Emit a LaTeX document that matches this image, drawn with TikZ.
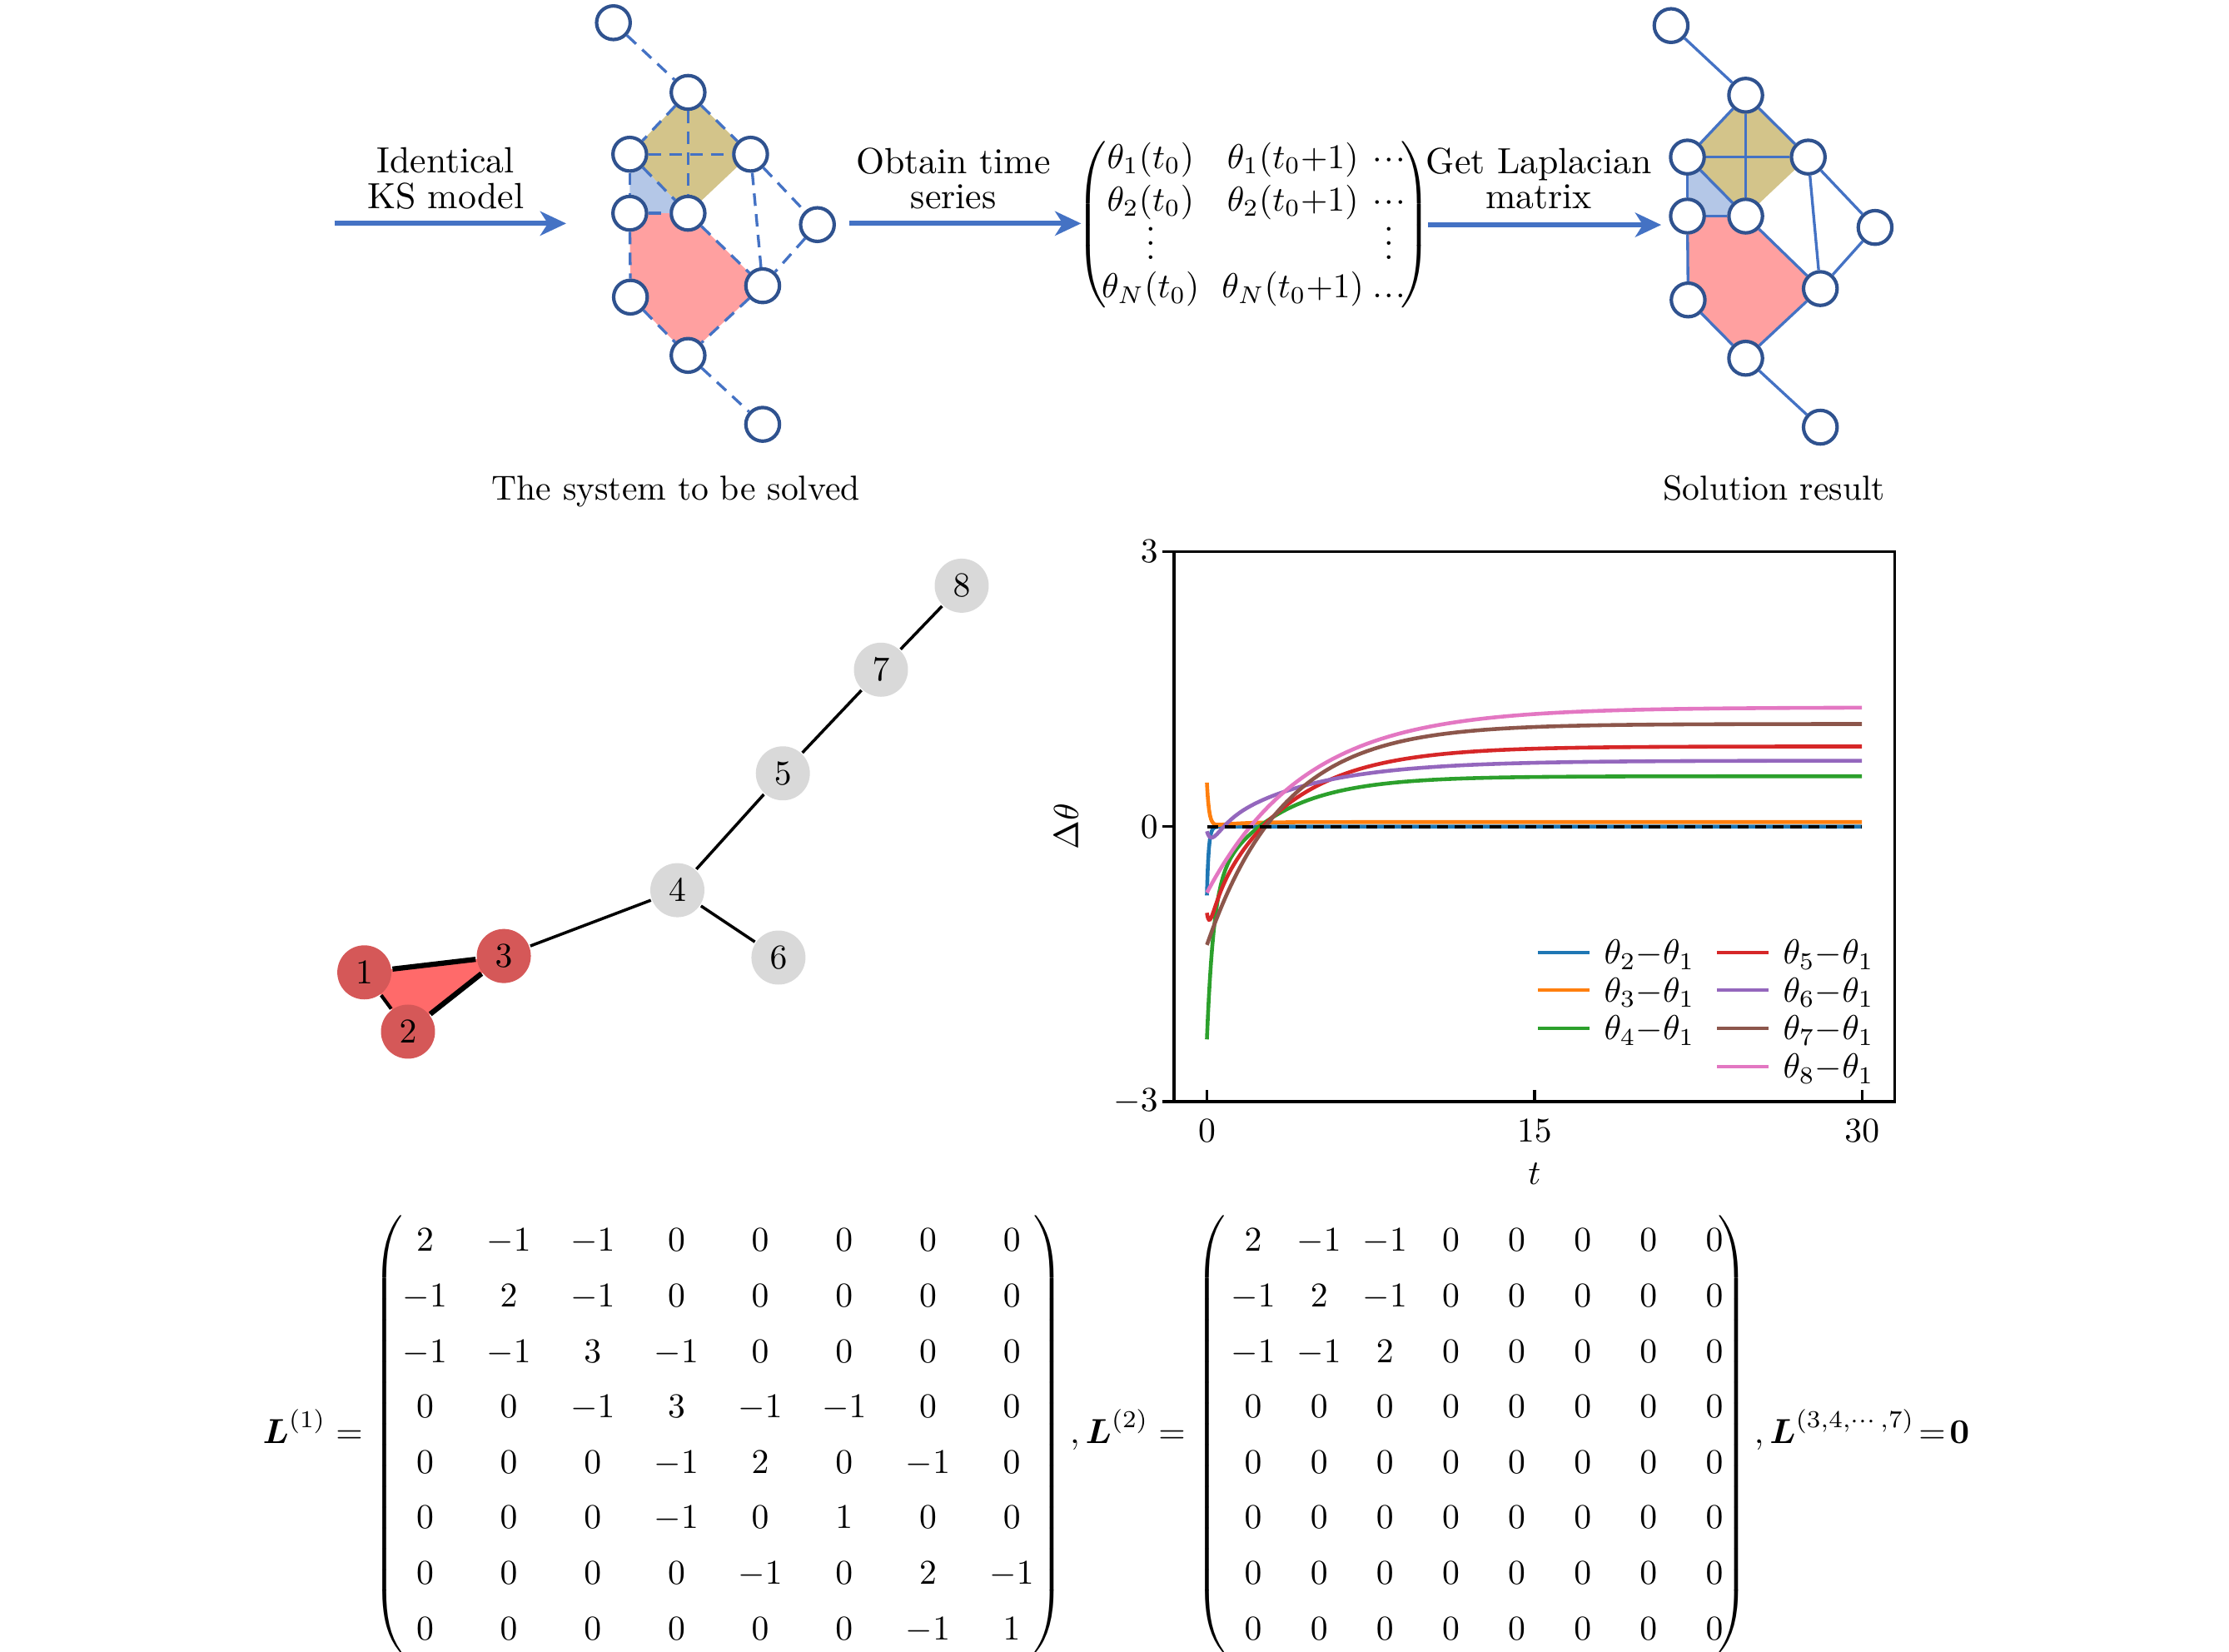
\documentclass[tikz,border=0pt]{standalone}
\usepackage{amsmath,amssymb}
\usepackage{array}
\usetikzlibrary{arrows.meta,backgrounds}

\definecolor{netblue}{RGB}{68,114,196}
\definecolor{netring}{RGB}{47,82,143}
\definecolor{netgold}{RGB}{211,196,138}
\definecolor{netsky}{RGB}{180,199,231}
\definecolor{netpink}{RGB}{255,160,160}
\definecolor{nodegrey}{RGB}{217,217,217}
\definecolor{nodered}{RGB}{213,88,88}
\definecolor{facered}{RGB}{255,106,106}
\definecolor{tabblue}{RGB}{31,119,180}
\definecolor{taborange}{RGB}{255,127,14}
\definecolor{tabgreen}{RGB}{44,160,44}
\definecolor{tabred}{RGB}{214,39,40}
\definecolor{tabpurple}{RGB}{148,103,189}
\definecolor{tabbrown}{RGB}{140,86,75}
\definecolor{tabpink}{RGB}{227,119,194}

\newcommand{\tcdots}{{\cdot}\mkern1mu{\cdot}\mkern1mu{\cdot}}
\newcommand{\tldots}{{.}\mkern1mu{.}\mkern1mu{.}}

\tikzset{every picture/.style={line width=0.75pt}}
\tikzset{
	netnode/.style={circle,draw=netring,fill=white,line width=1pt,minimum size=9.7pt,inner sep=0pt},
	netedge/.style={netblue,line width=0.8pt},
	guessedge/.style={netedge,dash pattern=on 3.6pt off 2.4pt},
	flowarrow/.style={netblue,line width=1.45pt,-{Stealth[length=7.5pt,width=7pt,inset=2.2pt]}},
	flowlabel/.style={align=center,inner sep=0pt,font={\fontsize{10.5}{10.25}\selectfont}},
	graynode/.style={circle,fill=nodegrey,minimum size=15.6pt,inner sep=0pt},
	rednode/.style={graynode,fill=nodered},
	tieedge/.style={line width=0.85pt},
	curve/.style={line width=1.1pt}
}

\begin{document}
\begin{tikzpicture}[x=0.41pt,y=0.41pt,yscale=-1,xscale=1,declare function={dec(\u,\k)=exp(max(-\u/\k,-9));}]
	\useasboundingbox (0,0) rectangle (1568,1162);
	%Shape: Circles of both networks
	\foreach \n/\px/\py in {a/431.5/16,b/484/65,c/443/108.5,d/528/108.5,e/443/150,f/484/150,g/575/158,h/536.5/201,i/443.5/209,j/484/250,k/536.5/298.5}{
		\node[netnode] (l\n) at (\px,\py) {};
		\node[netnode] (r\n) at (\px+744,\py+2) {};
	}
	%Shape: Polygons
	\begin{scope}[on background layer]
		\foreach \s in {l,r}{
			\fill[netgold] (\s b.center) -- (\s d.center) -- (\s f.center) -- (\s c.center) -- cycle;
			\fill[netsky] (\s c.center) -- (\s f.center) -- (\s e.center) -- cycle;
			\fill[netpink] (\s e.center) -- (\s f.center) -- (\s h.center) -- (\s j.center) -- (\s i.center) -- cycle;
		}
	\end{scope}
	\foreach \p/\q in {a/b,b/c,b/d,b/f,c/d,c/f,c/e,e/f,d/g,d/h,g/h,f/h,e/i,i/j,h/j,j/k}{
		\draw[guessedge] (l\p) -- (l\q);
		\draw[netedge] (r\p) -- (r\q);
	}
	
	% Arrows
	\coordinate (ksA) at (235.3,157.2);
	\coordinate (ksB) at (398.3,157.2);
	\coordinate (tsA) at (597.5,157.2);
	\coordinate (tsB) at (760.5,157.2);
	\coordinate (lpA) at (1004.6,158.2);
	\coordinate (lpB) at (1168.6,158.2);
	\draw[flowarrow] (ksA) -- (ksB);
	\draw[flowarrow] (tsA) -- (tsB);
	\draw[flowarrow] (lpA) -- (lpB);
	% Text Node
	\node[flowlabel] (kslab) at (313.5,125.5) {Identical\\KS model};
	% Text Node
	\node[flowlabel] (tslab) at (670.7,125.5) {Obtain time\\series};
	% Text Node
	\node[flowlabel] (lplab) at (1082.5,125.5) {Get Laplacian\\matrix};
	% Text Node
	\node[anchor=base] (caplft) at (475.4,351.5) {The system to be solved};
	% Text Node
	\node[anchor=base] (caprgt) at (1248,351.5) {Solution result};
	% Text Node
	\node[inner sep=0pt] (tsmat) at (882,158.2) {$\left(\hspace{-1.4pt}\begin{array}{@{}c@{\hspace{6.5pt}}c@{\hspace{2.5pt}}c@{}}
		\theta_1(t_0) & \theta_1(t_0{+}1) & \tcdots\\[0.2pt]
		\theta_2(t_0) & \theta_2(t_0{+}1) & \tcdots\\
		\raisebox{-2pt}{$\smash{\vdots}$} & & \raisebox{-2pt}{$\smash{\vdots}$}\\[1.2pt]
		\theta_N(t_0) & \theta_N(t_0{+}1) & \tldots
		\end{array}\hspace{-1.2pt}\right)$};
	
	% Graph
	\foreach \n/\px/\py in {1/256.3/684,2/287/725.7,3/354.4/672.5}
		\node[rednode] (g\n) at (\px,\py) {$\n$};
	\foreach \n/\px/\py in {4/476.5/626.2,5/550.7/544,6/547.6/673.6,7/619.7/471.1,8/676.5/412}
		\node[graynode] (g\n) at (\px,\py) {$\n$};
	\begin{scope}[on background layer]
		\fill[facered] (g1.center) -- (g2.center) -- (g3.center) -- cycle;
	\end{scope}
	\draw[tieedge,line width=1pt] (g1) -- (g2);
	\draw[tieedge,line width=1.5pt] (g1) -- (g3) (g2) -- (g3);
	\draw[tieedge] (g3) -- (g4) (g4) -- (g5) (g4) -- (g6) (g5) -- (g7) (g7) -- (g8);
	
	% Plot
	\begin{scope}[shift={(849,581.5)},x=6.298pt,y=-26.445pt]
		\draw[curve,tabblue] plot[variable=\s,domain=0:5.4772,samples=90] ({\s*\s},{-0.75*dec(\s*\s,0.08)});
		\draw[curve,taborange] plot[variable=\s,domain=0:5.4772,samples=90] ({\s*\s},{0.05+0.48*dec(\s*\s,0.1)-0.05*dec(\s*\s,1.2)});
		\draw[curve,tabgreen] plot[variable=\s,domain=0:5.4772,samples=90] ({\s*\s},{0.55-1.22*dec(\s*\s,3)-1.65*dec(\s*\s,0.3)});
		\draw[curve,tabred] plot[variable=\s,domain=0:5.4772,samples=90] ({\s*\s},{0.875-1.815*dec(\s*\s,3.5)-0.4*(dec(\s*\s,0.35)-dec(\s*\s,0.12))});
		\draw[curve,tabpurple] plot[variable=\s,domain=0:5.4772,samples=90] ({\s*\s},{0.72-0.77*dec(\s*\s,4.3)-0.3*(dec(\s*\s,0.6)-dec(\s*\s,0.2))});
		\draw[curve,tabbrown] plot[variable=\s,domain=0:5.4772,samples=90] ({\s*\s},{1.12-2.41*dec(\s*\s,3.5)});
		\draw[curve,tabpink] plot[variable=\s,domain=0:5.4772,samples=90] ({\s*\s},{1.3-2.02*dec(\s*\s,4.5)});
		\draw[black,line width=1pt,dash pattern=on 3.2pt off 1.9pt] (0,0) -- (30,0);
		%Shape: Rectangle
		\draw[line width=0.9pt] (-1.497,-3) rectangle (31.5,3);
		\foreach \v/\nm in {-3/a,0/b,3/c}{
			\draw[line width=0.8pt] (-1.497,\v) -- (-2.05,\v);
			\node[anchor=east,inner sep=0pt] (ytick\nm) at (-2.18,\v) {$\v$};
		}
		\foreach \t in {0,15,30}{
			\draw[line width=0.8pt] (\t,-3) -- (\t,-2.87);
			\node[anchor=north,inner sep=0pt] (xtick\t) at (\t,-3.18) {$\t$};
		}
		% Text Node
		\node (tlab) at (15,-3.79) {$t$};
		% Text Node
		\node[rotate=90] (dlab) at (-6.45,0) {$\Delta\theta$};
	\end{scope}
	% Legend
	\foreach \i/\col/\px/\py in {2/tabblue/1082/670,3/taborange/1082/696.6,4/tabgreen/1082/723.4,5/tabred/1208/670,6/tabpurple/1208/696.6,7/tabbrown/1208/723.4,8/tabpink/1208/750.3}{
		\draw[\col,line width=1pt] (\px,\py) -- ++(36,0);
		\node[anchor=west,inner sep=0pt] (leg\i) at (\px+45.5,\py+1.5) {$\theta_{\i}{-}\theta_1$};
	}
	
	% Text Node
	\node[anchor=west,inner sep=0pt] (lapeq) at (184,1009) {\renewcommand{\arraystretch}{1.333}%
		$\boldsymbol{L}^{(1)}=\left(\arraycolsep=5.7pt\begin{array}{@{}*{8}{c}@{}}
		2&-1&-1&0&0&0&0&0\\
		-1&2&-1&0&0&0&0&0\\
		-1&-1&3&-1&0&0&0&0\\
		0&0&-1&3&-1&-1&0&0\\
		0&0&0&-1&2&0&-1&0\\
		0&0&0&-1&0&1&0&0\\
		0&0&0&0&-1&0&2&-1\\
		0&0&0&0&0&0&-1&1
		\end{array}\right),
		\boldsymbol{L}^{(2)}=\left(\arraycolsep=3.1pt\begin{array}{@{\hspace{1.6pt}}*{8}{w{c}{12.8pt}}@{}}
		2&-1&-1&0&0&0&0&0\\
		-1&2&-1&0&0&0&0&0\\
		-1&-1&2&0&0&0&0&0\\
		0&0&0&0&0&0&0&0\\
		0&0&0&0&0&0&0&0\\
		0&0&0&0&0&0&0&0\\
		0&0&0&0&0&0&0&0\\
		0&0&0&0&0&0&0&0
		\end{array}\hspace{-5.3pt}\right),
		\boldsymbol{L}^{(3,4,\cdots,7)}\!=\!\boldsymbol{0}$};
\end{tikzpicture}
\end{document}
